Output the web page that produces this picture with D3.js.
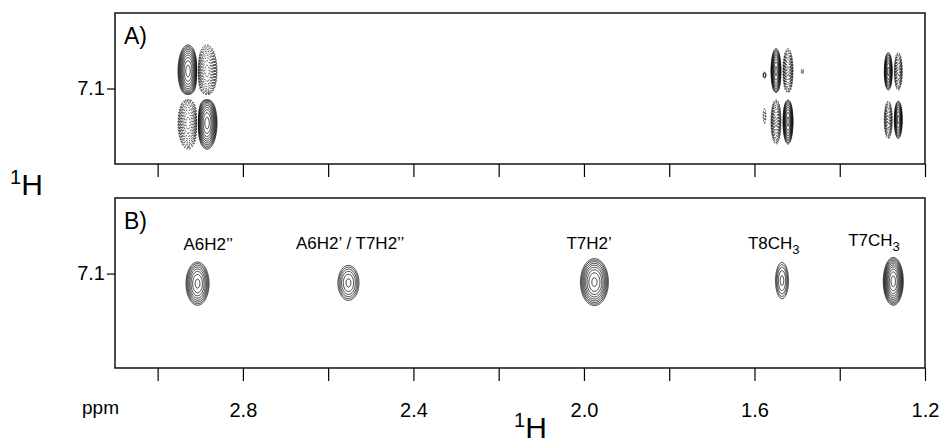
<!DOCTYPE html>
<html>
<head>
<meta charset="utf-8">
<script src="https://cdn.jsdelivr.net/npm/d3@7"></script>
<style>
  body { margin: 0; background: #fff; }
  text { font-family: "Liberation Sans", Arial, Helvetica, sans-serif; fill: #000; }
</style>
</head>
<body>
<div id="chart"></div>
<script>
// 1H (F2) axis, ppm
var xTicks = [3.0, 2.8, 2.6, 2.4, 2.2, 2.0, 1.8, 1.6, 1.4, 1.2];
var xTickLabels = ["", "2.8", "", "2.4", "", "2.0", "", "1.6", "", "1.2"];
// 1H (F1) axis
var yTicks = [7.1];

// panel B: in-phase peaks
var peakNames = ["A6H2’’", "A6H2’ / T7H2’’", "T7H2’", "T8CH", "T7CH"];
var peakSub = ["", "", "", "3", "3"];
var peakF2 = [2.907, 2.553, 1.976, 1.536, 1.275];
var peakF1 = [7.113, 7.112, 7.111, 7.109, 7.110];
var peakAmp = [6.8, 4.0, 8.8, 3.1, 12];
var peakWidthF2 = [0.0138, 0.0148, 0.0157, 0.0101, 0.0105];
var peakWidthF1 = [0.0146, 0.0139, 0.0149, 0.0159, 0.0142];

// panel A: antiphase cross peaks
var crossF2 = [2.907, 1.536, 1.275];
var crossF1 = [7.111, 7.110, 7.109];
var crossAmp = [12, 9, 7];
var crossSplitF2 = [0.0223, 0.014, 0.0117];
var crossSplitF1 = [0.0345, 0.0334, 0.032];
var crossWidthF2 = [0.0105, 0.0056, 0.0047];
var crossWidthF1 = [0.0155, 0.0142, 0.0126];

// small extra bits next to the T8CH3 cross peak
var extraF2 = [1.577, 1.488, 1.577];
var extraF1 = [7.082, 7.077, 7.136];
var extraAmp = [1.6, -1.4, -1.5];
var extraWidthF2 = [0.0035, 0.0035, 0.0035];
var extraWidthF1 = [0.004, 0.004, 0.011];

// contour levels
var levels = d3.range(0, 14).map(function(k) { return Math.pow(1.3, k); });

var width = 945, height = 444;

var svg = d3.select("#chart")
  .append("svg")
  .attr("width", width)
  .attr("height", height);

var x = d3.scaleLinear().domain([3.1, 1.2]).range([115, 925]);
var yA = d3.scaleLinear().domain([7.0, 7.2]).range([13, 164]);
var yB = d3.scaleLinear().domain([7.0, 7.225]).range([198, 368]);

// build lobes for each panel (upper-left and lower-right positive)
var lobesA = [];
crossF2.forEach(function(f2, i) {
  [[1, -1, 1], [-1, -1, -1], [1, 1, -1], [-1, 1, 1]].forEach(function(s) {
    lobesA.push({
      f2: f2 + s[0] * crossSplitF2[i],
      f1: crossF1[i] + s[1] * crossSplitF1[i],
      a: s[2] * crossAmp[i],
      wx: crossWidthF2[i],
      wy: crossWidthF1[i]
    });
  });
});
extraF2.forEach(function(f2, i) {
  lobesA.push({ f2: f2, f1: extraF1[i], a: extraAmp[i], wx: extraWidthF2[i], wy: extraWidthF1[i] });
});

var lobesB = peakF2.map(function(f2, i) {
  return { f2: f2, f1: peakF1[i], a: peakAmp[i], wx: peakWidthF2[i], wy: peakWidthF1[i] };
});

function drawContours(y, lobes) {
  var res = 0.5;
  var x0 = x.range()[0], x1 = x.range()[1];
  var y0 = y.range()[0], y1 = y.range()[1];
  var n = Math.ceil((x1 - x0) / res) + 1,
      m = Math.ceil((y1 - y0) / res) + 1;
  var v = new Array(n * m).fill(0);

  lobes.forEach(function(l) {
    var cx = x(l.f2), cy = y(l.f1);
    var sx = Math.abs(x(l.f2 + l.wx) - cx),
        sy = Math.abs(y(l.f1 + l.wy) - cy);
    var i0 = Math.max(0, Math.floor((cx - 5 * sx - x0) / res)),
        i1 = Math.min(n - 1, Math.ceil((cx + 5 * sx - x0) / res)),
        j0 = Math.max(0, Math.floor((cy - 5 * sy - y0) / res)),
        j1 = Math.min(m - 1, Math.ceil((cy + 5 * sy - y0) / res));
    for (var j = j0; j <= j1; j++) {
      var dy = (y0 + j * res - cy) / sy;
      for (var i = i0; i <= i1; i++) {
        var dx = (x0 + i * res - cx) / sx;
        v[j * n + i] += l.a * Math.exp(-0.5 * (dx * dx + dy * dy));
      }
    }
  });

  var neg = v.map(function(d) { return -d; });
  var contours = d3.contours().size([n, m]).thresholds(levels);
  var proj = d3.geoTransform({
    point: function(px, py) { this.stream.point(x0 + px * res, y0 + py * res); }
  });
  var path = d3.geoPath(proj);

  var g = svg.append("g");
  g.selectAll("path.pos")
    .data(contours(v))
    .enter()
    .append("path")
    .attr("class", "pos")
    .attr("d", path)
    .attr("fill", "none")
    .attr("stroke", "#000")
    .attr("stroke-width", 0.8);
  g.selectAll("path.neg")
    .data(contours(neg))
    .enter()
    .append("path")
    .attr("class", "neg")
    .attr("d", path)
    .attr("fill", "none")
    .attr("stroke", "#000")
    .attr("stroke-width", 0.8)
    .attr("stroke-dasharray", "1.6,1.4");
}

function drawFrame(y, showLabels, tag) {
  var yb = y.range()[1];
  // bottom ticks
  var gx = svg.append("g")
    .attr("transform", "translate(0," + yb + ")")
    .call(d3.axisBottom(x)
      .tickValues(xTicks)
      .tickSize(13)
      .tickPadding(22)
      .tickFormat(function(d, i) { return showLabels ? xTickLabels[i] : ""; }));
  gx.select(".domain").remove();
  gx.selectAll("line").attr("stroke-width", 1.2);
  gx.selectAll("text")
    .style("font-size", "20px")
    .style("font-family", "'Liberation Sans', Arial, sans-serif");

  // left tick
  var gy = svg.append("g")
    .attr("transform", "translate(" + x.range()[0] + ",0)")
    .call(d3.axisLeft(y)
      .tickValues(yTicks)
      .tickSize(8)
      .tickPadding(2)
      .tickFormat(d3.format(".1f")));
  gy.select(".domain").remove();
  gy.selectAll("line").attr("stroke-width", 1.2);
  gy.selectAll("text")
    .style("font-size", "20px")
    .style("font-family", "'Liberation Sans', Arial, sans-serif");

  // frame
  svg.append("rect")
    .attr("x", x.range()[0])
    .attr("y", y.range()[0])
    .attr("width", x.range()[1] - x.range()[0])
    .attr("height", y.range()[1] - y.range()[0])
    .attr("fill", "none")
    .attr("stroke", "#000")
    .attr("stroke-width", 1.4);

  svg.append("text")
    .attr("x", x.range()[0] + 9)
    .attr("y", y.range()[0] + 31)
    .style("font-size", "23px")
    .text(tag);
}

drawContours(yA, lobesA);
drawContours(yB, lobesB);
drawFrame(yA, false, "A)");
drawFrame(yB, true, "B)");

// peak labels in panel B
var labelDx = [11, 2, -5, -8, -19];
var labelDy = [-33, -34, -33, -31, -35];
peakNames.forEach(function(name, i) {
  var t = svg.append("text")
    .attr("x", x(peakF2[i]) + labelDx[i])
    .attr("y", yB(peakF1[i]) + labelDy[i])
    .attr("text-anchor", "middle")
    .style("font-size", "17px")
    .text(name);
  if (peakSub[i]) {
    t.append("tspan")
      .attr("dy", 5)
      .style("font-size", "13px")
      .text(peakSub[i]);
  }
});

// axis titles
svg.append("text")
  .attr("x", 82)
  .attr("y", 414)
  .style("font-size", "19px")
  .text("ppm");

function protonLabel(px, py) {
  var t = svg.append("text")
    .attr("x", px)
    .attr("y", py)
    .style("font-size", "30px");
  t.append("tspan").attr("dy", -11).style("font-size", "20px").text("1");
  t.append("tspan").attr("dy", 11).text("H");
}
protonLabel(10, 195);
protonLabel(514, 438);
</script>
</body>
</html>
